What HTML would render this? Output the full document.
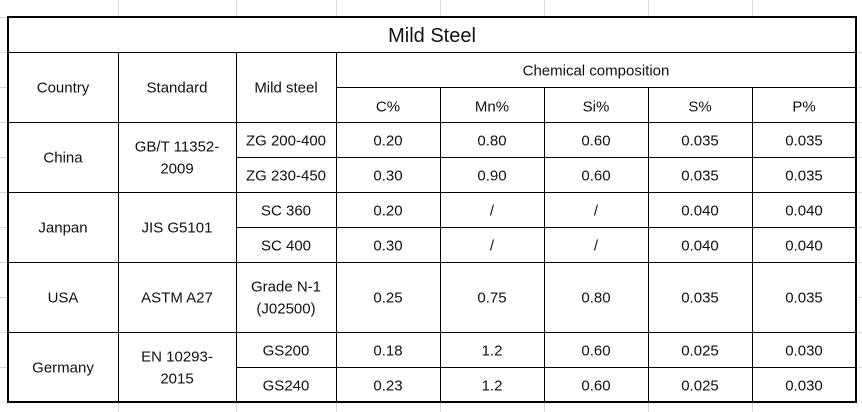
<!DOCTYPE html>
<html><head><meta charset="utf-8"><style>
html,body{margin:0;padding:0;background:#fff;}
svg{display:block;}
text{font-family:"Liberation Sans",sans-serif;font-size:15px;fill:#111;}
</style></head><body>
<svg width="862" height="412">
<g stroke="#d9d9d9" stroke-width="1">
<line x1="118.5" y1="0" x2="118.5" y2="16"/><line x1="236.5" y1="0" x2="236.5" y2="16"/><line x1="336.5" y1="0" x2="336.5" y2="16"/>
<line x1="440.5" y1="0" x2="440.5" y2="16"/><line x1="544.5" y1="0" x2="544.5" y2="16"/><line x1="648.5" y1="0" x2="648.5" y2="16"/><line x1="752.5" y1="0" x2="752.5" y2="16"/>
<line x1="118.5" y1="403" x2="118.5" y2="412"/><line x1="236.5" y1="403" x2="236.5" y2="412"/><line x1="336.5" y1="403" x2="336.5" y2="412"/>
<line x1="440.5" y1="403" x2="440.5" y2="412"/><line x1="544.5" y1="403" x2="544.5" y2="412"/><line x1="648.5" y1="403" x2="648.5" y2="412"/><line x1="752.5" y1="403" x2="752.5" y2="412"/>
<line x1="0" y1="17.5" x2="8" y2="17.5"/><line x1="0" y1="52.5" x2="8" y2="52.5"/><line x1="0" y1="87.5" x2="8" y2="87.5"/><line x1="0" y1="122.5" x2="8" y2="122.5"/><line x1="0" y1="157.5" x2="8" y2="157.5"/><line x1="0" y1="192.5" x2="8" y2="192.5"/><line x1="0" y1="227.5" x2="8" y2="227.5"/><line x1="0" y1="262.5" x2="8" y2="262.5"/><line x1="0" y1="297.5" x2="8" y2="297.5"/><line x1="0" y1="332.5" x2="8" y2="332.5"/><line x1="0" y1="367.5" x2="8" y2="367.5"/>
<line x1="858" y1="52.5" x2="862" y2="52.5"/><line x1="858" y1="87.5" x2="862" y2="87.5"/><line x1="858" y1="122.5" x2="862" y2="122.5"/><line x1="858" y1="157.5" x2="862" y2="157.5"/><line x1="858" y1="192.5" x2="862" y2="192.5"/><line x1="858" y1="227.5" x2="862" y2="227.5"/><line x1="858" y1="262.5" x2="862" y2="262.5"/><line x1="858" y1="297.5" x2="862" y2="297.5"/><line x1="858" y1="332.5" x2="862" y2="332.5"/><line x1="858" y1="367.5" x2="862" y2="367.5"/>
</g>
<g stroke="#000" stroke-width="1">
<line x1="8" y1="52.5" x2="856" y2="52.5"/>
<line x1="336" y1="87.5" x2="856" y2="87.5"/>
<line x1="8" y1="122.5" x2="856" y2="122.5"/>
<line x1="236" y1="157.5" x2="856" y2="157.5"/>
<line x1="8" y1="192.5" x2="856" y2="192.5"/>
<line x1="236" y1="227.5" x2="856" y2="227.5"/>
<line x1="8" y1="262.5" x2="856" y2="262.5"/>
<line x1="8" y1="332.5" x2="856" y2="332.5"/>
<line x1="236" y1="367.5" x2="856" y2="367.5"/>
<line x1="118.5" y1="52" x2="118.5" y2="402"/>
<line x1="236.5" y1="52" x2="236.5" y2="402"/>
<line x1="336.5" y1="52" x2="336.5" y2="402"/>
<line x1="440.5" y1="87" x2="440.5" y2="402"/>
<line x1="544.5" y1="87" x2="544.5" y2="402"/>
<line x1="648.5" y1="87" x2="648.5" y2="402"/>
<line x1="752.5" y1="87" x2="752.5" y2="402"/>
</g>
<rect x="8" y="17" width="848" height="385" fill="none" stroke="#000" stroke-width="2"/>
<g text-anchor="middle" dominant-baseline="central">
<text x="432" y="36" style="font-size:20px">Mild Steel</text>
<text x="63" y="88">Country</text>
<text x="177" y="88">Standard</text>
<text x="286" y="88">Mild steel</text>
<text x="596" y="71">Chemical composition</text>
<text x="388" y="107">C%</text>
<text x="492" y="107">Mn%</text>
<text x="596" y="107">Si%</text>
<text x="700" y="107">S%</text>
<text x="804" y="107">P%</text>

<text x="63" y="158">China</text>
<text x="177" y="147">GB/T 11352-</text>
<text x="177" y="169">2009</text>
<text x="286" y="141">ZG 200-400</text>
<text x="388" y="141">0.20</text><text x="492" y="141">0.80</text><text x="596" y="141">0.60</text><text x="700" y="141">0.035</text><text x="804" y="141">0.035</text>
<text x="286" y="176">ZG 230-450</text>
<text x="388" y="176">0.30</text><text x="492" y="176">0.90</text><text x="596" y="176">0.60</text><text x="700" y="176">0.035</text><text x="804" y="176">0.035</text>

<text x="63" y="228">Janpan</text>
<text x="177" y="228">JIS G5101</text>
<text x="286" y="211">SC 360</text>
<text x="388" y="211">0.20</text><text x="492" y="211">/</text><text x="596" y="211">/</text><text x="700" y="211">0.040</text><text x="804" y="211">0.040</text>
<text x="286" y="246">SC 400</text>
<text x="388" y="246">0.30</text><text x="492" y="246">/</text><text x="596" y="246">/</text><text x="700" y="246">0.040</text><text x="804" y="246">0.040</text>

<text x="63" y="298">USA</text>
<text x="177" y="298">ASTM A27</text>
<text x="286" y="287">Grade N-1</text>
<text x="286" y="309">(J02500)</text>
<text x="388" y="298">0.25</text><text x="492" y="298">0.75</text><text x="596" y="298">0.80</text><text x="700" y="298">0.035</text><text x="804" y="298">0.035</text>

<text x="63" y="368">Germany</text>
<text x="177" y="357">EN 10293-</text>
<text x="177" y="379">2015</text>
<text x="286" y="351">GS200</text>
<text x="388" y="351">0.18</text><text x="492" y="351">1.2</text><text x="596" y="351">0.60</text><text x="700" y="351">0.025</text><text x="804" y="351">0.030</text>
<text x="286" y="386">GS240</text>
<text x="388" y="386">0.23</text><text x="492" y="386">1.2</text><text x="596" y="386">0.60</text><text x="700" y="386">0.025</text><text x="804" y="386">0.030</text>
</g>
</svg>
</body></html>
